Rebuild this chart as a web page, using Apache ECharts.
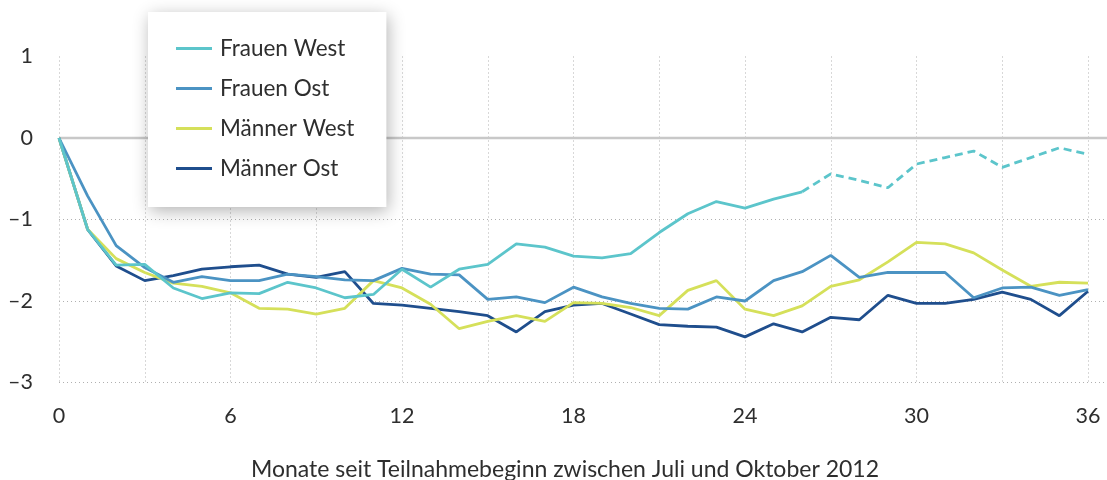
<!DOCTYPE html>
<html><head><meta charset="utf-8">
<script src="https://cdn.jsdelivr.net/npm/echarts@6/dist/echarts.min.js"></script>
<style>html,body{margin:0;padding:0;background:#fff}#c{width:1107px;height:480px}</style>
</head><body><div id="c"></div>
<script>
const months = [0,1,2,3,4,5,6,7,8,9,10,11,12,13,14,15,16,17,18,19,20,21,22,23,24,25,26,27,28,29,30,31,32,33,34,35,36];
const seriesNames = ['Frauen West','Frauen Ost','Männer West','Männer Ost'];
const frauenWest = [0,-1.12,-1.56,-1.55,-1.84,-1.97,-1.90,-1.91,-1.77,-1.84,-1.96,-1.92,-1.61,
  -1.83,-1.61,-1.55,-1.30,-1.34,-1.45,-1.47,-1.42,-1.16,-0.93,-0.78,-0.86,
  -0.75,-0.66,-0.44,-0.52,-0.61,-0.32,-0.24,-0.16,-0.36,-0.24,-0.12,-0.20];
const frauenOst = [0,-0.71,-1.32,-1.59,-1.77,-1.70,-1.75,-1.75,-1.67,-1.70,-1.74,-1.75,-1.60,
  -1.67,-1.68,-1.98,-1.95,-2.02,-1.83,-1.95,-2.03,-2.09,-2.10,-1.95,-2.00,
  -1.75,-1.64,-1.44,-1.71,-1.65,-1.65,-1.65,-1.96,-1.84,-1.83,-1.93,-1.86];
const maennerWest = [0,-1.12,-1.48,-1.65,-1.78,-1.82,-1.90,-2.09,-2.10,-2.16,-2.09,-1.75,-1.84,
  -2.04,-2.34,-2.25,-2.18,-2.25,-2.02,-2.03,-2.08,-2.18,-1.87,-1.75,-2.10,
  -2.18,-2.06,-1.82,-1.74,-1.52,-1.28,-1.30,-1.41,-1.62,-1.82,-1.77,-1.78];
const maennerOst = [0,-1.12,-1.57,-1.75,-1.69,-1.61,-1.58,-1.56,-1.67,-1.71,-1.64,-2.03,-2.05,
  -2.09,-2.13,-2.18,-2.38,-2.13,-2.05,-2.03,-2.16,-2.29,-2.31,-2.32,-2.44,
  -2.28,-2.38,-2.20,-2.23,-1.93,-2.03,-2.03,-1.98,-1.89,-1.98,-2.18,-1.88];
const dashedFrom = 26; // Frauen West: dashed from month 26 on
const xTickLabels = ['0','6','12','18','24','30','36'];
const yTickLabels = {'1':'1','0':'0','-1':'–1','-2':'–2','-3':'–3'};
const xTitle = 'Monate seit Teilnahmebeginn zwischen Juli und Oktober 2012';
const colors = {'Frauen West':'#5cc5cb','Frauen Ost':'#4b93c3','Männer West':'#d5e05a','Männer Ost':'#1f4e8d'};

const FONT = 'Lato';
const TXT = '#2e2e2e';
const pairs = (arr, keep) => months.map((m, i) => [m, keep(i) ? arr[i] : null]);
const lineSeries = (name, data, type) => ({
  name, type:'line', xAxisIndex:0, yAxisIndex:0, data,
  symbol:'none', showSymbol:false, silent:true,
  itemStyle:{color:colors[name]},
  lineStyle:{color:colors[name], width:2.8, type:type||'solid'},
  emphasis:{disabled:true}
});

const chart = echarts.init(document.getElementById('c'), null, {renderer:'canvas'});
chart.setOption({
  animation:false,
  backgroundColor:'#ffffff',
  textStyle:{fontFamily:FONT},
  title:{text:xTitle, left:560, textAlign:'center', top:453,
    textStyle:{fontSize:23, fontWeight:'normal', color:TXT, fontFamily:FONT}},
  legend:{data:seriesNames, orient:'vertical', left:148, top:12,
    padding:[25,32,27,28], backgroundColor:'#ffffff',
    shadowBlur:16, shadowColor:'rgba(0,0,0,0.3)', shadowOffsetX:2, shadowOffsetY:4,
    icon:'rect', itemWidth:36, itemHeight:3, itemGap:17, selectedMode:false,
    textStyle:{fontSize:22.5, color:TXT, lineHeight:23, padding:[0,0,0,3], fontFamily:FONT}},
  grid:[{left:59, right:19, top:56.5, bottom:97.5},
        {left:59, right:0, top:56.5, bottom:97.5}],
  xAxis:[
    {gridIndex:0, type:'value', min:0, max:36, interval:3,
     axisLine:{show:false}, axisTick:{show:false},
     axisLabel:{formatter:v => xTickLabels.includes(String(v)) ? String(v) : '',
       fontSize:21.5, color:TXT, margin:23, fontFamily:FONT},
     splitLine:{show:true, lineStyle:{type:[1,3], color:'#b0b0b0', width:1}}},
    {gridIndex:1, type:'value', min:0, max:1, show:false}
  ],
  yAxis:[
    {gridIndex:0, type:'value', min:-3, max:1, interval:1, show:false},
    {gridIndex:1, type:'value', min:-3, max:1, interval:1,
     axisLine:{show:false}, axisTick:{show:false},
     axisLabel:{formatter:v => yTickLabels[String(v)], fontSize:21.5, color:TXT, margin:26, fontFamily:FONT},
     splitLine:{show:true, lineStyle:{type:[1,3], width:1,
       color:['#b0b0b0','#b0b0b0','#b0b0b0','rgba(0,0,0,0)','rgba(0,0,0,0)']}}}
  ],
  series:[
    {name:'zero', type:'line', xAxisIndex:1, yAxisIndex:1, data:[[0,0],[1,0]],
     symbol:'none', silent:true, lineStyle:{color:'#c8c8c8', width:2.5}, z:1},
    lineSeries('Männer Ost', pairs(maennerOst, () => true)),
    lineSeries('Männer West', pairs(maennerWest, () => true)),
    lineSeries('Frauen Ost', pairs(frauenOst, () => true)),
    lineSeries('Frauen West', pairs(frauenWest, i => i <= dashedFrom)),
    lineSeries('Frauen West', pairs(frauenWest, i => i >= dashedFrom), [8,5])
  ]
});
</script></body></html>
